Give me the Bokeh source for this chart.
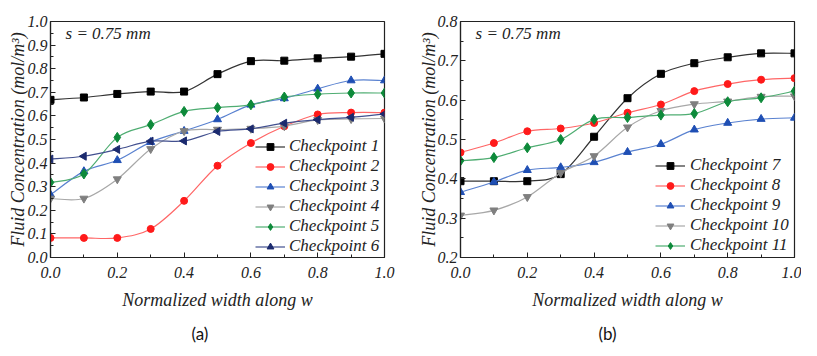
import math
from bokeh.plotting import figure
from bokeh.layouts import row
from bokeh.models import (Range1d, FixedTicker, PrintfTickFormatter, Legend,
                          LegendItem, Label, Title, ColumnDataSource)
from bokeh.embed import file_html
from bokeh.resources import INLINE

# ---------------- data ----------------
x_vals = [0.0, 0.1, 0.2, 0.3, 0.4, 0.5, 0.6, 0.7, 0.8, 0.9, 1.0]

cp1 = [0.668, 0.678, 0.693, 0.703, 0.703, 0.777, 0.832, 0.834, 0.844, 0.851, 0.863]
cp2 = [0.083, 0.083, 0.083, 0.121, 0.240, 0.389, 0.485, 0.556, 0.606, 0.614, 0.614]
cp3 = [0.266, 0.365, 0.412, 0.489, 0.536, 0.585, 0.647, 0.674, 0.715, 0.750, 0.750]
cp4 = [0.250, 0.250, 0.332, 0.460, 0.536, 0.542, 0.546, 0.557, 0.583, 0.587, 0.589]
cp5 = [0.318, 0.354, 0.509, 0.563, 0.619, 0.635, 0.647, 0.680, 0.692, 0.697, 0.697]
cp6 = [0.417, 0.429, 0.458, 0.493, 0.494, 0.534, 0.545, 0.569, 0.584, 0.594, 0.608]

cp7 = [0.394, 0.394, 0.394, 0.412, 0.507, 0.605, 0.667, 0.694, 0.709, 0.719, 0.719]
cp8 = [0.467, 0.491, 0.521, 0.528, 0.542, 0.568, 0.589, 0.623, 0.641, 0.652, 0.656]
cp9 = [0.366, 0.392, 0.422, 0.429, 0.442, 0.468, 0.488, 0.525, 0.542, 0.552, 0.555]
cp10 = [0.307, 0.320, 0.354, 0.415, 0.458, 0.531, 0.573, 0.590, 0.597, 0.609, 0.610]
cp11 = [0.446, 0.454, 0.479, 0.500, 0.551, 0.556, 0.562, 0.566, 0.596, 0.606, 0.623]

names_a = ["Checkpoint 1", "Checkpoint 2", "Checkpoint 3",
           "Checkpoint 4", "Checkpoint 5", "Checkpoint 6"]
names_b = ["Checkpoint 7", "Checkpoint 8", "Checkpoint 9",
           "Checkpoint 10", "Checkpoint 11"]

x_ticks = [0.0, 0.2, 0.4, 0.6, 0.8, 1.0]
x_minor = [0.1, 0.3, 0.5, 0.7, 0.9]
ya_ticks = [0.0, 0.1, 0.2, 0.3, 0.4, 0.5, 0.6, 0.7, 0.8, 0.9, 1.0]
ya_minor = [0.05, 0.15, 0.25, 0.35, 0.45, 0.55, 0.65, 0.75, 0.85, 0.95]
yb_ticks = [0.2, 0.3, 0.4, 0.5, 0.6, 0.7, 0.8]
yb_minor = [0.25, 0.35, 0.45, 0.55, 0.65, 0.75]

# ---------------- styles ----------------
SERIF = "Liberation Serif"
styles = [
    dict(marker="square", mc="#000000", lc="#333333", size=7, angle=0.0),
    dict(marker="circle", mc="#ff1a1a", lc="#ff6666", size=7, angle=0.0),
    dict(marker="triangle", mc="#1f4fb4", lc="#5a82d0", size=8, angle=0.0),
    dict(marker="inverted_triangle", mc="#7f7f7f", lc="#a8a8a8", size=8, angle=0.0),
    dict(marker="diamond", mc="#0d8a3a", lc="#4fad72", size=10, angle=0.0),
    dict(marker="triangle", mc="#1b2a6e", lc="#42508f", size=8, angle=math.pi / 2),
]


def bezier_source(xs, ys):
    """Catmull-Rom style smooth connection between the data points."""
    n = len(xs)
    d = dict(x0=[], y0=[], x1=[], y1=[], cx0=[], cy0=[], cx1=[], cy1=[])
    for i in range(n - 1):
        p0 = (xs[max(i - 1, 0)], ys[max(i - 1, 0)])
        p1 = (xs[i], ys[i])
        p2 = (xs[i + 1], ys[i + 1])
        p3 = (xs[min(i + 2, n - 1)], ys[min(i + 2, n - 1)])
        d["x0"].append(p1[0]); d["y0"].append(p1[1])
        d["x1"].append(p2[0]); d["y1"].append(p2[1])
        d["cx0"].append(p1[0] + (p2[0] - p0[0]) / 6.0)
        d["cy0"].append(p1[1] + (p2[1] - p0[1]) / 6.0)
        d["cx1"].append(p2[0] - (p3[0] - p1[0]) / 6.0)
        d["cy1"].append(p2[1] - (p3[1] - p1[1]) / 6.0)
    return ColumnDataSource(d)


def make_panel(series, names, yr, yticks, yminor, width, left, right,
               caption, cap_offset, leg_loc, ylab_standoff, leg_standoff):
    p = figure(width=width, height=352, output_backend="svg",
               toolbar_location=None, x_range=Range1d(0, 1),
               y_range=Range1d(*yr), min_border_left=left,
               min_border_right=right, min_border_top=21,
               min_border_bottom=84)
    p.grid.visible = False
    p.background_fill_color = "white"
    p.border_fill_color = "white"
    p.outline_line_color = "#222222"
    p.outline_line_width = 1.2

    for ax in (p.xaxis[0], p.yaxis[0]):
        ax.axis_line_color = "#222222"
        ax.axis_line_width = 1.2
        ax.major_tick_line_color = "#222222"
        ax.minor_tick_line_color = "#222222"
        ax.major_tick_in = 5
        ax.major_tick_out = 0
        ax.minor_tick_in = 3
        ax.minor_tick_out = 0
        ax.major_label_text_font = SERIF
        ax.major_label_text_font_style = "italic"
        ax.major_label_text_font_size = "16px"
        ax.major_label_text_color = "#222222"
        ax.axis_label_text_font = SERIF
        ax.axis_label_text_font_style = "italic"
        ax.axis_label_text_font_size = "18px"
        ax.axis_label_text_color = "#222222"
        ax.formatter = PrintfTickFormatter(format="%.1f")

    p.xaxis[0].ticker = FixedTicker(ticks=x_ticks, minor_ticks=x_minor)
    p.yaxis[0].ticker = FixedTicker(ticks=yticks, minor_ticks=yminor)
    p.xaxis[0].major_label_standoff = 9
    p.yaxis[0].major_label_standoff = 3
    p.xaxis[0].axis_label = "Normalized width along w"
    p.yaxis[0].axis_label = "Fluid Concentration (mol/m³)"
    p.xaxis[0].axis_label_standoff = 9
    p.yaxis[0].axis_label_standoff = ylab_standoff

    items = []
    for ys, name, st in zip(series, names, styles):
        lr = p.bezier(x0="x0", y0="y0", x1="x1", y1="y1", cx0="cx0",
                      cy0="cy0", cx1="cx1", cy1="cy1",
                      source=bezier_source(x_vals, ys),
                      line_color=st["lc"], line_width=1.2)
        sr = p.scatter(x_vals, ys, marker=st["marker"], size=st["size"],
                       angle=st["angle"], fill_color=st["mc"],
                       line_color=st["mc"])
        items.append(LegendItem(label=name, renderers=[lr, sr]))

    leg = Legend(items=items, location=leg_loc, padding=0, margin=0,
                 spacing=-1, glyph_width=30, glyph_height=17,
                 label_height=17, label_standoff=leg_standoff,
                 label_text_font=SERIF, label_text_font_style="italic",
                 label_text_font_size="17px", label_text_color="#222222",
                 border_line_color=None, background_fill_alpha=0.0)
    p.add_layout(leg)

    p.add_layout(Label(x=0.045, y=yr[1] - (yr[1] - yr[0]) * 0.049,
                       text="s = 0.75 mm", text_font=SERIF,
                       text_font_style="italic", text_font_size="17px",
                       text_baseline="middle", text_color="#222222"))

    cap = Title(text=caption, align="left", text_font="Lato",
                text_font_size="17px", text_font_style="normal",
                text_color="#111111", offset=cap_offset, standoff=17)
    p.add_layout(cap, "below")
    return p


pa = make_panel([cp1, cp2, cp3, cp4, cp5, cp6], names_a, (0.0, 1.0),
                ya_ticks, ya_minor, 400, 50, 16, "(a)", 141, (205, 1), -3, 4)
pb = make_panel([cp7, cp8, cp9, cp10, cp11], names_b, (0.2, 0.8),
                yb_ticks, yb_minor, 401, 60, 7, "(b)", 138, (195, 2), -4, 5)

layout = row(pa, pb)
open("out.html", "w").write(file_html(layout, INLINE))
